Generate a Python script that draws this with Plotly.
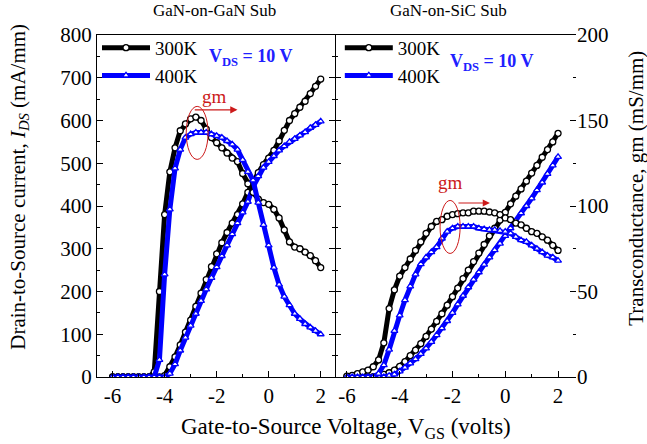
import plotly.graph_objects as go

# Gate voltage (V), 0.2 V steps
vgs = [round(-6.0 + 0.2 * i, 1) for i in range(41)]

# ---- GaN-on-GaN substrate (left panel) ----
ids_gan_300 = [0, 0, 0, 0, 0, 0, 0, 0, 0, 0, 3, 24, 47, 75, 105, 133, 165, 196, 228, 258, 288,
               314, 338, 360, 380, 405, 432, 458, 478, 497, 512, 530, 552, 577, 600, 616, 631, 645, 663, 680, 697]
ids_gan_400 = [0, 0, 0, 0, 0, 0, 0, 0, 0, 0, 0, 8, 30, 62, 92, 120, 148, 178, 205, 232, 257,
               283, 308, 334, 360, 385, 410, 445, 470, 490, 503, 517, 530, 540, 550, 557, 565, 573, 583, 590, 598]
gm_gan_300 = [0, 0, 0, 0, 0, 0, 0, 0, 3, 50, 95, 120, 134, 144, 148, 151, 152, 150, 145, 140, 137,
              134, 131, 128, 126, 119, 113, 108, 104, 102, 101, 98, 93, 86, 79, 76, 75, 73, 71, 68, 64]
gm_gan_400 = [0, 0, 0, 0, 0, 0, 0, 0, 0, 10, 60, 98, 122, 133, 140, 142, 143, 143, 143, 142, 141,
              140, 138, 136, 133, 127, 120, 115, 102, 89, 77, 64, 54, 47, 42, 37, 34, 31, 29, 27, 25]

# ---- GaN-on-SiC substrate (right panel) ----
ids_sic_300 = [0, 0, 0, 0, 0, 1, 3, 6, 10, 16, 25, 36, 50, 63, 78, 95, 112, 130, 148, 168, 188,
               208, 230, 250, 270, 290, 310, 330, 348, 367, 385, 405, 423, 440, 458, 477, 495, 514, 532, 550, 570]
ids_sic_400 = [0, 0, 0, 0, 0, 0, 0, 0, 3, 6, 13, 22, 32, 42, 54, 67, 82, 98, 114, 131, 150,
               170, 190, 210, 228, 245, 263, 280, 297, 312, 330, 348, 365, 383, 400, 418, 437, 455, 475, 495, 515]
gm_sic_300 = [0.5, 1, 2, 3, 4, 6, 10, 20, 40, 51, 59, 64, 69, 74, 79, 84, 88, 91, 92, 94, 95,
              95.5, 96, 96, 97, 97, 97, 96.5, 96, 95, 93, 92, 90, 89, 87, 85, 84, 82, 80, 77, 74]
gm_sic_400 = [0, 0, 0, 0, 0, 0, 2, 7, 16, 27, 36, 45, 53, 60, 66, 70, 73, 76, 81, 85, 87,
              88, 88, 88, 88, 87, 86.5, 86, 86, 85.5, 85, 84, 82, 80, 79, 77, 75, 73, 71, 70, 68]

temps = ["300K", "400K"]
colors = ["black", "#0000ff"]
symbols = ["circle", "triangle-up"]
panel_titles = ["GaN-on-GaN Sub", "GaN-on-SiC Sub"]

FONT = "Liberation Serif"

fig = go.Figure()

def add_series(x, y, k, xa, ya, legend, show):
    fig.add_trace(go.Scatter(
        x=x, y=y, mode="lines+markers", name=temps[k],
        line=dict(color=colors[k], width=5),
        marker=dict(symbol=symbols[k], size=6, color="white",
                    line=dict(color=colors[k], width=1.3)),
        xaxis=xa, yaxis=ya, legend=legend, showlegend=show))

# Left panel
for k, (ids, gm) in enumerate([(ids_gan_300, gm_gan_300), (ids_gan_400, gm_gan_400)]):
    add_series(vgs, ids, k, "x", "y", "legend", True)
    add_series(vgs, gm, k, "x", "y3", "legend", False)
# Right panel
for k, (ids, gm) in enumerate([(ids_sic_300, gm_sic_300), (ids_sic_400, gm_sic_400)]):
    add_series(vgs, ids, k, "x2", "y2", "legend2", True)
    add_series(vgs, gm, k, "x2", "y4", "legend2", False)

split = 0.4969
tickfont = dict(family=FONT, size=21, color="black")
common_x = dict(showline=True, linecolor="black", linewidth=1, mirror=True,
                ticks="inside", ticklen=6, tickcolor="black", automargin=False,
                tickvals=[-6, -4, -2, 0, 2], ticktext=["-6", "-4", "-2", "0", "2"],
                minor=dict(dtick=1, ticks="inside", ticklen=3, tickcolor="black"),
                showgrid=False, zeroline=False, tickfont=tickfont)
fig.update_layout(
    width=647, height=444,
    margin=dict(l=97, r=71, t=35, b=67, autoexpand=False),
    paper_bgcolor="white", plot_bgcolor="white",
    font=dict(family=FONT, color="black"),
    xaxis=dict(domain=[0, split], range=[-6.6, 2.55], **common_x),
    xaxis2=dict(domain=[split, 1], range=[-6.45, 2.68], **common_x),
    yaxis=dict(anchor="x", range=[0, 800], dtick=100, showline=True, linecolor="black",
               linewidth=1, mirror="ticks", ticks="inside", ticklen=6, tickcolor="black",
               minor=dict(dtick=50, ticks="inside", ticklen=3, tickcolor="black"),
               showgrid=False, zeroline=False, tickfont=tickfont, automargin=False),
    yaxis2=dict(anchor="x2", range=[0, 800], dtick=100, showline=False,
                ticks="inside", ticklen=6, tickcolor="black", automargin=False,
                minor=dict(dtick=50, ticks="inside", ticklen=3, tickcolor="black"),
                showticklabels=False, showgrid=False, zeroline=False),
    yaxis3=dict(overlaying="y", anchor="x", range=[0, 200], visible=False),
    yaxis4=dict(overlaying="y2", anchor="x2", side="right", range=[0, 200], dtick=50,
                showline=False, ticks="inside", ticklen=6, tickcolor="black", automargin=False,
                minor=dict(dtick=25, ticks="inside", ticklen=3, tickcolor="black"),
                showgrid=False, zeroline=False, tickfont=tickfont),
    legend=dict(x=0.0, y=1.018, xanchor="left", yanchor="top", bgcolor="rgba(0,0,0,0)",
                font=dict(family=FONT, size=19), itemwidth=48, tracegroupgap=0),
    legend2=dict(x=split + 0.01, y=1.018, xanchor="left", yanchor="top", bgcolor="rgba(0,0,0,0)",
                 font=dict(family=FONT, size=19), itemwidth=48, tracegroupgap=0),
)

anns = []
# panel titles
for i, t in enumerate(panel_titles):
    anns.append(dict(text=t, x=[0.245, 0.733][i], y=1.0, xref="paper", yref="paper",
                     xanchor="center", yanchor="bottom", yshift=13, showarrow=False,
                     font=dict(family=FONT, size=17)))
# VDS labels
for xp, yp in [(0.3215, 0.933), (0.8236, 0.921)]:
    anns.append(dict(text="<b>V<sub>DS</sub> = 10 V</b>", x=xp, y=yp, xref="paper", yref="paper",
                     xanchor="center", yanchor="middle", showarrow=False,
                     font=dict(family=FONT, size=18, color="#2020ff")))
# gm labels
anns.append(dict(text="gm", x=-2.07, y=657, xref="x", yref="y", showarrow=False,
                 font=dict(family=FONT, size=19, color="#cc1a1a")))
anns.append(dict(text="gm", x=-2.09, y=454, xref="x2", yref="y2", showarrow=False,
                 font=dict(family=FONT, size=19, color="#cc1a1a")))
# arrows
anns.append(dict(x=-1.2, y=625, ax=-2.9, ay=625, xref="x", yref="y", axref="x", ayref="y",
                 showarrow=True, arrowhead=2, arrowsize=1.2, arrowwidth=1.2, arrowcolor="#cc1a1a", text=""))
anns.append(dict(x=-0.58, y=407, ax=-1.83, ay=407, xref="x2", yref="y2", axref="x2", ayref="y2",
                 showarrow=True, arrowhead=2, arrowsize=1.2, arrowwidth=1.2, arrowcolor="#cc1a1a", text=""))
# axis titles
anns.append(dict(text="Gate-to-Source Voltage, V<sub>GS</sub> (volts)", x=0.52, y=-0.149,
                 xref="paper", yref="paper", xanchor="center", showarrow=False, yanchor="middle",
                 font=dict(family=FONT, size=23)))
anns.append(dict(text="Drain-to-Source current, <i>I<sub>DS</sub></i> (mA/mm)", x=-0.163, y=0.556,
                 xref="paper", yref="paper", xanchor="center", yanchor="middle", textangle=-90,
                 showarrow=False, font=dict(family=FONT, size=21)))
anns.append(dict(text="Transconductance, gm (mS/mm)", x=1.125, y=0.553,
                 xref="paper", yref="paper", xanchor="center", yanchor="middle", textangle=-90,
                 showarrow=False, font=dict(family=FONT, size=21)))
fig.update_layout(annotations=anns)

fig.add_shape(type="circle", xref="x", yref="y", x0=-3.17, x1=-2.33, y0=509, y1=633,
              line=dict(color="#cc1a1a", width=1))
fig.add_shape(type="circle", xref="x2", yref="y2", x0=-2.47, x1=-1.71, y0=289, y1=413,
              line=dict(color="#cc1a1a", width=1))

fig.write_html("out.html", config={"displayModeBar": False},
               post_script="document.body.style.margin='0';document.body.style.overflow='hidden';")
